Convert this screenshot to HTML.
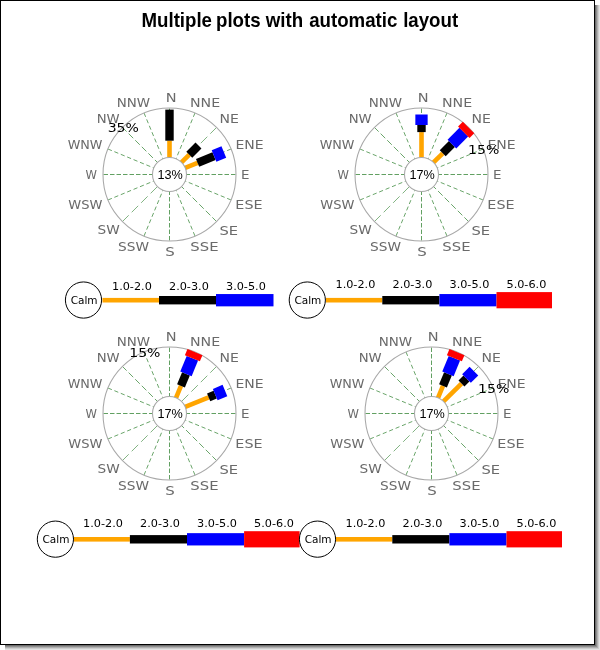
<!DOCTYPE html>
<html><head><meta charset="utf-8"><title>Multiple plots with automatic layout</title>
<style>
html,body{margin:0;padding:0;background:#fff;}
#g{position:relative;width:600px;height:650px;overflow:hidden;background:#fff;}
#frame{position:absolute;left:0;top:0;width:593px;height:643px;border:1px solid #000;background:#fff;}
h1{position:absolute;left:0;top:9px;width:600px;margin:0;text-align:center;font:bold 18.67px "Liberation Sans",sans-serif;color:#000;line-height:22px;transform:scaleY(1.065);transform-origin:0 4px;}
h1 span{position:relative;}
svg text{font-family:"DejaVu Sans",sans-serif;}
.cl{font-size:13.33px;fill:#6a6a6a;}
.pc{font-size:13.33px;fill:#000;}
.lg{font-size:10.67px;fill:#000;}
svg text.cm{font-family:"Liberation Sans",sans-serif;font-size:13.33px;fill:#000;}
</style></head><body>
<div id="g">
<div id="frame"></div>
<h1><span style="left:-0.4px">Multiple</span> <span style="left:-1.6px">plots</span> <span style="left:-1.6px">with</span> <span style="left:-0.7px">automatic</span> layout</h1>
<svg width="600" height="650" viewBox="0 0 600 650" style="position:absolute;left:0;top:0">
<rect x="595" y="5" width="1" height="641" fill="#6e6e6e" shape-rendering="crispEdges"/>
<rect x="5" y="645" width="590" height="1" fill="#6e6e6e" shape-rendering="crispEdges"/>
<rect x="596" y="5" width="1" height="642" fill="#8f8f8f" shape-rendering="crispEdges"/>
<rect x="5" y="646" width="591" height="1" fill="#8f8f8f" shape-rendering="crispEdges"/>
<rect x="597" y="5" width="1" height="643" fill="#afafaf" shape-rendering="crispEdges"/>
<rect x="5" y="647" width="592" height="1" fill="#afafaf" shape-rendering="crispEdges"/>
<rect x="598" y="5" width="1" height="644" fill="#cdcdcd" shape-rendering="crispEdges"/>
<rect x="5" y="648" width="593" height="1" fill="#cdcdcd" shape-rendering="crispEdges"/>
<rect x="599" y="5" width="1" height="645" fill="#e3e3e3" shape-rendering="crispEdges"/>
<rect x="5" y="649" width="594" height="1" fill="#e3e3e3" shape-rendering="crispEdges"/>
<g transform="translate(169.5,174.5)">
<line x1="16.00" y1="-0.00" x2="66.50" y2="-0.00" stroke="#62a062" stroke-width="1" stroke-dasharray="4.5 2"/>
<line x1="12.84" y1="-5.32" x2="61.44" y2="-25.45" stroke="#62a062" stroke-width="0.95" stroke-dasharray="4.2 2.73"/>
<line x1="12.37" y1="-12.37" x2="47.02" y2="-47.02" stroke="#62a062" stroke-width="0.8" stroke-dasharray="9.2 4.2"/>
<line x1="5.32" y1="-12.84" x2="25.45" y2="-61.44" stroke="#62a062" stroke-width="0.95" stroke-dasharray="4.2 2.73"/>
<line x1="0.00" y1="-16.00" x2="0.00" y2="-66.50" stroke="#62a062" stroke-width="1" stroke-dasharray="4.5 2"/>
<line x1="-5.32" y1="-12.84" x2="-25.45" y2="-61.44" stroke="#62a062" stroke-width="0.95" stroke-dasharray="4.2 2.73"/>
<line x1="-9.97" y1="-9.97" x2="-47.02" y2="-47.02" stroke="#62a062" stroke-width="0.95" stroke-dasharray="6.5 2.8"/>
<line x1="-12.84" y1="-5.32" x2="-61.44" y2="-25.45" stroke="#62a062" stroke-width="0.95" stroke-dasharray="4.2 2.73"/>
<line x1="-16.00" y1="-0.00" x2="-66.50" y2="-0.00" stroke="#62a062" stroke-width="1" stroke-dasharray="4.5 2"/>
<line x1="-12.84" y1="5.32" x2="-61.44" y2="25.45" stroke="#62a062" stroke-width="0.95" stroke-dasharray="4.2 2.73"/>
<line x1="-12.37" y1="12.37" x2="-47.02" y2="47.02" stroke="#62a062" stroke-width="0.8" stroke-dasharray="9.2 4.2"/>
<line x1="-5.32" y1="12.84" x2="-25.45" y2="61.44" stroke="#62a062" stroke-width="0.95" stroke-dasharray="4.2 2.73"/>
<line x1="-0.00" y1="16.00" x2="-0.00" y2="66.50" stroke="#62a062" stroke-width="1" stroke-dasharray="4.5 2"/>
<line x1="5.32" y1="12.84" x2="25.45" y2="61.44" stroke="#62a062" stroke-width="0.95" stroke-dasharray="4.2 2.73"/>
<line x1="9.97" y1="9.97" x2="47.02" y2="47.02" stroke="#62a062" stroke-width="0.95" stroke-dasharray="6.5 2.8"/>
<line x1="12.84" y1="5.32" x2="61.44" y2="25.45" stroke="#62a062" stroke-width="0.95" stroke-dasharray="4.2 2.73"/>
<circle r="66.5" fill="none" stroke="#a8a8a8" stroke-width="1.05"/>
<g transform="rotate(-90.0)">
<rect x="17.00" y="-2.30" width="16.80" height="4.6" fill="#ffa500"/>
<rect x="33.80" y="-4.20" width="31.10" height="8.4" fill="#000"/>
</g>
<g transform="rotate(-45.0)">
<rect x="17.00" y="-2.30" width="11.00" height="4.6" fill="#ffa500"/>
<rect x="28.00" y="-4.20" width="13.00" height="8.4" fill="#000"/>
</g>
<g transform="rotate(-22.5)">
<rect x="17.00" y="-2.30" width="13.40" height="4.6" fill="#ffa500"/>
<rect x="30.40" y="-4.20" width="17.80" height="8.4" fill="#000"/>
<rect x="48.20" y="-6.15" width="10.60" height="12.3" fill="#0000ff"/>
</g>
<circle r="17" fill="#fff" stroke="#a8a8a8" stroke-width="1.05"/>
<text transform="translate(0.6,4.8) scale(0.95,1)" text-anchor="middle" class="cm">13%</text>
<text transform="translate(-52.87,-67.30) scale(1.0102,0.955)" class="cl">NNW</text>
<text transform="translate(-3.77,-72.70) scale(1.0877,0.955)" class="cl">N</text>
<text transform="translate(-72.85,-51.30) scale(0.9950,0.955)" class="cl">NW</text>
<text transform="translate(-101.87,-25.90) scale(0.9590,0.955)" class="cl">WNW</text>
<text transform="translate(-83.93,4.40) scale(0.8698,0.955)" class="cl">W</text>
<text transform="translate(-101.18,34.70) scale(0.9810,0.955)" class="cl">WSW</text>
<text transform="translate(-72.05,59.70) scale(1.0282,0.955)" class="cl">SW</text>
<text transform="translate(-51.46,76.10) scale(1.0317,0.955)" class="cl">SSW</text>
<text transform="translate(-4.14,81.70) scale(1.1256,0.955)" class="cl">S</text>
<text transform="translate(71.53,4.60) scale(1.0062,0.955)" class="cl">E</text>
<text transform="translate(65.84,34.70) scale(1.0758,0.955)" class="cl">ESE</text>
<text transform="translate(49.88,60.10) scale(1.1021,0.955)" class="cl">SE</text>
<text transform="translate(20.87,76.30) scale(1.1138,0.955)" class="cl">SSE</text>
<text transform="translate(20.46,-67.30) scale(1.0647,0.955)" class="cl">NNE</text>
<text transform="translate(50.07,-51.30) scale(1.0534,0.955)" class="cl">NE</text>
<text transform="translate(65.88,-25.90) scale(1.0505,0.955)" class="cl">ENE</text>
<text transform="translate(-46.22,-42.42) scale(1.055,0.96)" text-anchor="middle" class="pc">35%</text>
</g>
<rect x="102.50" y="297.90" width="56.50" height="4.6" fill="#ffa500"/>
<text transform="translate(131.90,289.80) scale(1.055,0.97)" text-anchor="middle" class="lg">1.0-2.0</text>
<rect x="159.00" y="296.00" width="57.00" height="8.4" fill="#000"/>
<text transform="translate(188.90,289.80) scale(1.055,0.97)" text-anchor="middle" class="lg">2.0-3.0</text>
<rect x="216.00" y="294.05" width="57.50" height="12.3" fill="#0000ff"/>
<text transform="translate(245.90,289.80) scale(1.055,0.97)" text-anchor="middle" class="lg">3.0-5.0</text>
<circle cx="83.5" cy="300.05" r="18.1" fill="#fff" stroke="#000" stroke-width="1"/>
<text x="84.1" y="304.10" text-anchor="middle" class="lg" style="font-size:10.5px">Calm</text>
<g transform="translate(421.5,174.5)">
<line x1="16.00" y1="-0.00" x2="66.50" y2="-0.00" stroke="#62a062" stroke-width="1" stroke-dasharray="4.5 2"/>
<line x1="12.84" y1="-5.32" x2="61.44" y2="-25.45" stroke="#62a062" stroke-width="0.95" stroke-dasharray="4.2 2.73"/>
<line x1="12.37" y1="-12.37" x2="47.02" y2="-47.02" stroke="#62a062" stroke-width="0.8" stroke-dasharray="9.2 4.2"/>
<line x1="5.32" y1="-12.84" x2="25.45" y2="-61.44" stroke="#62a062" stroke-width="0.95" stroke-dasharray="4.2 2.73"/>
<line x1="0.00" y1="-16.00" x2="0.00" y2="-66.50" stroke="#62a062" stroke-width="1" stroke-dasharray="4.5 2"/>
<line x1="-5.32" y1="-12.84" x2="-25.45" y2="-61.44" stroke="#62a062" stroke-width="0.95" stroke-dasharray="4.2 2.73"/>
<line x1="-9.97" y1="-9.97" x2="-47.02" y2="-47.02" stroke="#62a062" stroke-width="0.95" stroke-dasharray="6.5 2.8"/>
<line x1="-12.84" y1="-5.32" x2="-61.44" y2="-25.45" stroke="#62a062" stroke-width="0.95" stroke-dasharray="4.2 2.73"/>
<line x1="-16.00" y1="-0.00" x2="-66.50" y2="-0.00" stroke="#62a062" stroke-width="1" stroke-dasharray="4.5 2"/>
<line x1="-12.84" y1="5.32" x2="-61.44" y2="25.45" stroke="#62a062" stroke-width="0.95" stroke-dasharray="4.2 2.73"/>
<line x1="-12.37" y1="12.37" x2="-47.02" y2="47.02" stroke="#62a062" stroke-width="0.8" stroke-dasharray="9.2 4.2"/>
<line x1="-5.32" y1="12.84" x2="-25.45" y2="61.44" stroke="#62a062" stroke-width="0.95" stroke-dasharray="4.2 2.73"/>
<line x1="-0.00" y1="16.00" x2="-0.00" y2="66.50" stroke="#62a062" stroke-width="1" stroke-dasharray="4.5 2"/>
<line x1="5.32" y1="12.84" x2="25.45" y2="61.44" stroke="#62a062" stroke-width="0.95" stroke-dasharray="4.2 2.73"/>
<line x1="9.97" y1="9.97" x2="47.02" y2="47.02" stroke="#62a062" stroke-width="0.95" stroke-dasharray="6.5 2.8"/>
<line x1="12.84" y1="5.32" x2="61.44" y2="25.45" stroke="#62a062" stroke-width="0.95" stroke-dasharray="4.2 2.73"/>
<circle r="66.5" fill="none" stroke="#a8a8a8" stroke-width="1.05"/>
<g transform="rotate(-90.0)">
<rect x="17.00" y="-2.30" width="25.40" height="4.6" fill="#ffa500"/>
<rect x="42.40" y="-4.20" width="7.10" height="8.4" fill="#000"/>
<rect x="49.50" y="-6.15" width="10.50" height="12.3" fill="#0000ff"/>
</g>
<g transform="rotate(-45.0)">
<rect x="17.00" y="-2.30" width="13.00" height="4.6" fill="#ffa500"/>
<rect x="30.00" y="-4.20" width="13.00" height="8.4" fill="#000"/>
<rect x="43.00" y="-6.15" width="16.80" height="12.3" fill="#0000ff"/>
<rect x="59.80" y="-8.10" width="6.70" height="16.2" fill="#ff0000"/>
</g>
<circle r="17" fill="#fff" stroke="#a8a8a8" stroke-width="1.05"/>
<text transform="translate(0.6,4.8) scale(0.95,1)" text-anchor="middle" class="cm">17%</text>
<text transform="translate(-52.87,-67.30) scale(1.0102,0.955)" class="cl">NNW</text>
<text transform="translate(-3.77,-72.70) scale(1.0877,0.955)" class="cl">N</text>
<text transform="translate(-72.85,-51.30) scale(0.9950,0.955)" class="cl">NW</text>
<text transform="translate(-101.87,-25.90) scale(0.9590,0.955)" class="cl">WNW</text>
<text transform="translate(-83.93,4.40) scale(0.8698,0.955)" class="cl">W</text>
<text transform="translate(-101.18,34.70) scale(0.9810,0.955)" class="cl">WSW</text>
<text transform="translate(-72.05,59.70) scale(1.0282,0.955)" class="cl">SW</text>
<text transform="translate(-51.46,76.10) scale(1.0317,0.955)" class="cl">SSW</text>
<text transform="translate(-4.14,81.70) scale(1.1256,0.955)" class="cl">S</text>
<text transform="translate(71.53,4.60) scale(1.0062,0.955)" class="cl">E</text>
<text transform="translate(65.84,34.70) scale(1.0758,0.955)" class="cl">ESE</text>
<text transform="translate(49.88,60.10) scale(1.1021,0.955)" class="cl">SE</text>
<text transform="translate(20.87,76.30) scale(1.1138,0.955)" class="cl">SSE</text>
<text transform="translate(20.46,-67.30) scale(1.0647,0.955)" class="cl">NNE</text>
<text transform="translate(50.07,-51.30) scale(1.0534,0.955)" class="cl">NE</text>
<text transform="translate(65.88,-25.90) scale(1.0505,0.955)" class="cl">ENE</text>
<text transform="translate(62.24,-20.85) scale(1.055,0.96)" text-anchor="middle" class="pc">15%</text>
</g>
<rect x="326.00" y="297.90" width="56.30" height="4.6" fill="#ffa500"/>
<text transform="translate(355.40,288.10) scale(1.055,0.97)" text-anchor="middle" class="lg">1.0-2.0</text>
<rect x="382.30" y="296.00" width="57.10" height="8.4" fill="#000"/>
<text transform="translate(412.40,288.10) scale(1.055,0.97)" text-anchor="middle" class="lg">2.0-3.0</text>
<rect x="439.40" y="294.05" width="57.10" height="12.3" fill="#0000ff"/>
<text transform="translate(469.40,288.10) scale(1.055,0.97)" text-anchor="middle" class="lg">3.0-5.0</text>
<rect x="496.50" y="292.10" width="55.50" height="16.2" fill="#ff0000"/>
<text transform="translate(526.40,288.10) scale(1.055,0.97)" text-anchor="middle" class="lg">5.0-6.0</text>
<circle cx="307.3" cy="300.05" r="18.1" fill="#fff" stroke="#000" stroke-width="1"/>
<text x="307.90000000000003" y="304.10" text-anchor="middle" class="lg" style="font-size:10.5px">Calm</text>
<g transform="translate(169.5,413.5)">
<line x1="16.00" y1="-0.00" x2="66.50" y2="-0.00" stroke="#62a062" stroke-width="1" stroke-dasharray="4.5 2"/>
<line x1="12.84" y1="-5.32" x2="61.44" y2="-25.45" stroke="#62a062" stroke-width="0.95" stroke-dasharray="4.2 2.73"/>
<line x1="12.37" y1="-12.37" x2="47.02" y2="-47.02" stroke="#62a062" stroke-width="0.8" stroke-dasharray="9.2 4.2"/>
<line x1="5.32" y1="-12.84" x2="25.45" y2="-61.44" stroke="#62a062" stroke-width="0.95" stroke-dasharray="4.2 2.73"/>
<line x1="0.00" y1="-16.00" x2="0.00" y2="-66.50" stroke="#62a062" stroke-width="1" stroke-dasharray="4.5 2"/>
<line x1="-5.32" y1="-12.84" x2="-25.45" y2="-61.44" stroke="#62a062" stroke-width="0.95" stroke-dasharray="4.2 2.73"/>
<line x1="-9.97" y1="-9.97" x2="-47.02" y2="-47.02" stroke="#62a062" stroke-width="0.95" stroke-dasharray="6.5 2.8"/>
<line x1="-12.84" y1="-5.32" x2="-61.44" y2="-25.45" stroke="#62a062" stroke-width="0.95" stroke-dasharray="4.2 2.73"/>
<line x1="-16.00" y1="-0.00" x2="-66.50" y2="-0.00" stroke="#62a062" stroke-width="1" stroke-dasharray="4.5 2"/>
<line x1="-12.84" y1="5.32" x2="-61.44" y2="25.45" stroke="#62a062" stroke-width="0.95" stroke-dasharray="4.2 2.73"/>
<line x1="-12.37" y1="12.37" x2="-47.02" y2="47.02" stroke="#62a062" stroke-width="0.8" stroke-dasharray="9.2 4.2"/>
<line x1="-5.32" y1="12.84" x2="-25.45" y2="61.44" stroke="#62a062" stroke-width="0.95" stroke-dasharray="4.2 2.73"/>
<line x1="-0.00" y1="16.00" x2="-0.00" y2="66.50" stroke="#62a062" stroke-width="1" stroke-dasharray="4.5 2"/>
<line x1="5.32" y1="12.84" x2="25.45" y2="61.44" stroke="#62a062" stroke-width="0.95" stroke-dasharray="4.2 2.73"/>
<line x1="9.97" y1="9.97" x2="47.02" y2="47.02" stroke="#62a062" stroke-width="0.95" stroke-dasharray="6.5 2.8"/>
<line x1="12.84" y1="5.32" x2="61.44" y2="25.45" stroke="#62a062" stroke-width="0.95" stroke-dasharray="4.2 2.73"/>
<circle r="66.5" fill="none" stroke="#a8a8a8" stroke-width="1.05"/>
<g transform="rotate(-22.5)">
<rect x="17.00" y="-2.30" width="25.40" height="4.6" fill="#ffa500"/>
<rect x="42.40" y="-4.20" width="7.10" height="8.4" fill="#000"/>
<rect x="49.50" y="-6.15" width="10.50" height="12.3" fill="#0000ff"/>
</g>
<g transform="rotate(-67.5)">
<rect x="17.00" y="-2.30" width="13.00" height="4.6" fill="#ffa500"/>
<rect x="30.00" y="-4.20" width="13.00" height="8.4" fill="#000"/>
<rect x="43.00" y="-6.15" width="16.80" height="12.3" fill="#0000ff"/>
<rect x="59.80" y="-8.10" width="6.70" height="16.2" fill="#ff0000"/>
</g>
<circle r="17" fill="#fff" stroke="#a8a8a8" stroke-width="1.05"/>
<text transform="translate(0.6,4.8) scale(0.95,1)" text-anchor="middle" class="cm">17%</text>
<text transform="translate(-52.87,-67.30) scale(1.0102,0.955)" class="cl">NNW</text>
<text transform="translate(-3.77,-72.70) scale(1.0877,0.955)" class="cl">N</text>
<text transform="translate(-72.85,-51.30) scale(0.9950,0.955)" class="cl">NW</text>
<text transform="translate(-101.87,-25.90) scale(0.9590,0.955)" class="cl">WNW</text>
<text transform="translate(-83.93,4.40) scale(0.8698,0.955)" class="cl">W</text>
<text transform="translate(-101.18,34.70) scale(0.9810,0.955)" class="cl">WSW</text>
<text transform="translate(-72.05,59.70) scale(1.0282,0.955)" class="cl">SW</text>
<text transform="translate(-51.46,76.10) scale(1.0317,0.955)" class="cl">SSW</text>
<text transform="translate(-4.14,81.70) scale(1.1256,0.955)" class="cl">S</text>
<text transform="translate(71.53,4.60) scale(1.0062,0.955)" class="cl">E</text>
<text transform="translate(65.84,34.70) scale(1.0758,0.955)" class="cl">ESE</text>
<text transform="translate(49.88,60.10) scale(1.1021,0.955)" class="cl">SE</text>
<text transform="translate(20.87,76.30) scale(1.1138,0.955)" class="cl">SSE</text>
<text transform="translate(20.46,-67.30) scale(1.0647,0.955)" class="cl">NNE</text>
<text transform="translate(50.07,-51.30) scale(1.0534,0.955)" class="cl">NE</text>
<text transform="translate(65.88,-25.90) scale(1.0505,0.955)" class="cl">ENE</text>
<text transform="translate(-24.65,-56.84) scale(1.055,0.96)" text-anchor="middle" class="pc">15%</text>
</g>
<rect x="73.60" y="537.00" width="56.30" height="4.6" fill="#ffa500"/>
<text transform="translate(103.00,527.20) scale(1.055,0.97)" text-anchor="middle" class="lg">1.0-2.0</text>
<rect x="129.90" y="535.10" width="57.10" height="8.4" fill="#000"/>
<text transform="translate(160.00,527.20) scale(1.055,0.97)" text-anchor="middle" class="lg">2.0-3.0</text>
<rect x="187.00" y="533.15" width="57.10" height="12.3" fill="#0000ff"/>
<text transform="translate(217.00,527.20) scale(1.055,0.97)" text-anchor="middle" class="lg">3.0-5.0</text>
<rect x="244.10" y="531.20" width="55.50" height="16.2" fill="#ff0000"/>
<text transform="translate(274.00,527.20) scale(1.055,0.97)" text-anchor="middle" class="lg">5.0-6.0</text>
<circle cx="55.4" cy="539.15" r="18.1" fill="#fff" stroke="#000" stroke-width="1"/>
<text x="56.0" y="543.20" text-anchor="middle" class="lg" style="font-size:10.5px">Calm</text>
<g transform="translate(431.5,413.5)">
<line x1="16.00" y1="-0.00" x2="66.50" y2="-0.00" stroke="#62a062" stroke-width="1" stroke-dasharray="4.5 2"/>
<line x1="12.84" y1="-5.32" x2="61.44" y2="-25.45" stroke="#62a062" stroke-width="0.95" stroke-dasharray="4.2 2.73"/>
<line x1="12.37" y1="-12.37" x2="47.02" y2="-47.02" stroke="#62a062" stroke-width="0.8" stroke-dasharray="9.2 4.2"/>
<line x1="5.32" y1="-12.84" x2="25.45" y2="-61.44" stroke="#62a062" stroke-width="0.95" stroke-dasharray="4.2 2.73"/>
<line x1="0.00" y1="-16.00" x2="0.00" y2="-66.50" stroke="#62a062" stroke-width="1" stroke-dasharray="4.5 2"/>
<line x1="-5.32" y1="-12.84" x2="-25.45" y2="-61.44" stroke="#62a062" stroke-width="0.95" stroke-dasharray="4.2 2.73"/>
<line x1="-9.97" y1="-9.97" x2="-47.02" y2="-47.02" stroke="#62a062" stroke-width="0.95" stroke-dasharray="6.5 2.8"/>
<line x1="-12.84" y1="-5.32" x2="-61.44" y2="-25.45" stroke="#62a062" stroke-width="0.95" stroke-dasharray="4.2 2.73"/>
<line x1="-16.00" y1="-0.00" x2="-66.50" y2="-0.00" stroke="#62a062" stroke-width="1" stroke-dasharray="4.5 2"/>
<line x1="-12.84" y1="5.32" x2="-61.44" y2="25.45" stroke="#62a062" stroke-width="0.95" stroke-dasharray="4.2 2.73"/>
<line x1="-12.37" y1="12.37" x2="-47.02" y2="47.02" stroke="#62a062" stroke-width="0.8" stroke-dasharray="9.2 4.2"/>
<line x1="-5.32" y1="12.84" x2="-25.45" y2="61.44" stroke="#62a062" stroke-width="0.95" stroke-dasharray="4.2 2.73"/>
<line x1="-0.00" y1="16.00" x2="-0.00" y2="66.50" stroke="#62a062" stroke-width="1" stroke-dasharray="4.5 2"/>
<line x1="5.32" y1="12.84" x2="25.45" y2="61.44" stroke="#62a062" stroke-width="0.95" stroke-dasharray="4.2 2.73"/>
<line x1="9.97" y1="9.97" x2="47.02" y2="47.02" stroke="#62a062" stroke-width="0.95" stroke-dasharray="6.5 2.8"/>
<line x1="12.84" y1="5.32" x2="61.44" y2="25.45" stroke="#62a062" stroke-width="0.95" stroke-dasharray="4.2 2.73"/>
<circle r="66.5" fill="none" stroke="#a8a8a8" stroke-width="1.05"/>
<g transform="rotate(-45.0)">
<rect x="17.00" y="-2.30" width="25.40" height="4.6" fill="#ffa500"/>
<rect x="42.40" y="-4.20" width="7.10" height="8.4" fill="#000"/>
<rect x="49.50" y="-6.15" width="10.50" height="12.3" fill="#0000ff"/>
</g>
<g transform="rotate(-67.5)">
<rect x="17.00" y="-2.30" width="13.00" height="4.6" fill="#ffa500"/>
<rect x="30.00" y="-4.20" width="13.00" height="8.4" fill="#000"/>
<rect x="43.00" y="-6.15" width="16.80" height="12.3" fill="#0000ff"/>
<rect x="59.80" y="-8.10" width="6.70" height="16.2" fill="#ff0000"/>
</g>
<circle r="17" fill="#fff" stroke="#a8a8a8" stroke-width="1.05"/>
<text transform="translate(0.6,4.8) scale(0.95,1)" text-anchor="middle" class="cm">17%</text>
<text transform="translate(-52.87,-67.30) scale(1.0102,0.955)" class="cl">NNW</text>
<text transform="translate(-3.77,-72.70) scale(1.0877,0.955)" class="cl">N</text>
<text transform="translate(-72.85,-51.30) scale(0.9950,0.955)" class="cl">NW</text>
<text transform="translate(-101.87,-25.90) scale(0.9590,0.955)" class="cl">WNW</text>
<text transform="translate(-83.93,4.40) scale(0.8698,0.955)" class="cl">W</text>
<text transform="translate(-101.18,34.70) scale(0.9810,0.955)" class="cl">WSW</text>
<text transform="translate(-72.05,59.70) scale(1.0282,0.955)" class="cl">SW</text>
<text transform="translate(-51.46,76.10) scale(1.0317,0.955)" class="cl">SSW</text>
<text transform="translate(-4.14,81.70) scale(1.1256,0.955)" class="cl">S</text>
<text transform="translate(71.53,4.60) scale(1.0062,0.955)" class="cl">E</text>
<text transform="translate(65.84,34.70) scale(1.0758,0.955)" class="cl">ESE</text>
<text transform="translate(49.88,60.10) scale(1.1021,0.955)" class="cl">SE</text>
<text transform="translate(20.87,76.30) scale(1.1138,0.955)" class="cl">SSE</text>
<text transform="translate(20.46,-67.30) scale(1.0647,0.955)" class="cl">NNE</text>
<text transform="translate(50.07,-51.30) scale(1.0534,0.955)" class="cl">NE</text>
<text transform="translate(65.88,-25.90) scale(1.0505,0.955)" class="cl">ENE</text>
<text transform="translate(62.24,-20.85) scale(1.055,0.96)" text-anchor="middle" class="pc">15%</text>
</g>
<rect x="336.00" y="537.00" width="56.30" height="4.6" fill="#ffa500"/>
<text transform="translate(365.40,527.20) scale(1.055,0.97)" text-anchor="middle" class="lg">1.0-2.0</text>
<rect x="392.30" y="535.10" width="57.10" height="8.4" fill="#000"/>
<text transform="translate(422.40,527.20) scale(1.055,0.97)" text-anchor="middle" class="lg">2.0-3.0</text>
<rect x="449.40" y="533.15" width="57.10" height="12.3" fill="#0000ff"/>
<text transform="translate(479.40,527.20) scale(1.055,0.97)" text-anchor="middle" class="lg">3.0-5.0</text>
<rect x="506.50" y="531.20" width="55.50" height="16.2" fill="#ff0000"/>
<text transform="translate(536.40,527.20) scale(1.055,0.97)" text-anchor="middle" class="lg">5.0-6.0</text>
<circle cx="317.5" cy="539.15" r="18.1" fill="#fff" stroke="#000" stroke-width="1"/>
<text x="318.1" y="543.20" text-anchor="middle" class="lg" style="font-size:10.5px">Calm</text>
</svg>
</div>
</body></html>
